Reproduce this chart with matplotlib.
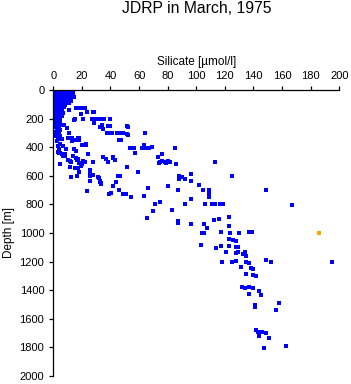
import matplotlib
matplotlib.use("Agg")
import matplotlib.pyplot as plt

plt.rcParams['font.family'] = ['Liberation Sans', 'DejaVu Sans']

title = "JDRP in March, 1975"
x_label = "Silicate [\u00b5mol/l]"
y_label = "Depth [m]"
x_ticks = [0, 20, 40, 60, 80, 100, 120, 140, 160, 180, 200]
y_ticks = [0, 200, 400, 600, 800, 1000, 1200, 1400, 1600, 1800, 2000]

# Near-surface cluster (silicate, depth)
cluster_si = [0.3, 1.5, 2.8, 4, 5.5, 7, 8.5, 10, 11.5, 13,
              0.5, 2, 3.5, 5, 6.5, 8, 9.5, 12,
              1, 2.5, 4, 6, 7.5, 9, 11, 13.5,
              0.5, 2, 3, 5, 7, 8.5, 10.5, 12.5,
              1, 2.5, 4.5, 6, 8, 10, 11.5, 14.5,
              0.5, 2, 3.5, 5.5, 7.5, 9, 12,
              1, 3, 4.5, 6.5, 8, 10.5, 12.5,
              0.5, 2, 4, 5.5, 7, 9.5, 11,
              1.5, 3, 5, 6.5, 8.5,
              0.5, 2.5, 4, 6, 7.5,
              1, 3, 4.5, 6, 11,
              0.5, 2, 3.5, 5, 7,
              1, 2.5, 4, 6,
              1, 3, 5,
              2, 4.5,
              1.5, 3.5,
              2.5, 5, 7.5,
              1.5, 4, 9.5,
              2.5, 5,
              1.5, 4,
              3,
              2, 4.5,
              3.5, 6,
              2.5,
              4.5,
              3, 6.5,
              4, 8.9,
              3.3, 5,
              6, 8.3,
              7,
              10.3,
              4.5]
cluster_depth = [0, 0, 0, 0, 0, 0, 0, 0, 0, 0,
                 10, 10, 10, 10, 10, 10, 10, 10,
                 20, 20, 20, 20, 20, 20, 20, 20,
                 30, 30, 30, 30, 30, 30, 30, 30,
                 45, 45, 45, 45, 45, 45, 45, 51,
                 60, 60, 60, 60, 60, 60, 62,
                 75, 75, 75, 75, 75, 75, 78,
                 90, 90, 90, 90, 90, 90, 92,
                 105, 105, 105, 105, 108,
                 120, 120, 120, 120, 122,
                 140, 140, 140, 142, 140,
                 160, 160, 160, 160, 158,
                 180, 180, 180, 182,
                 200, 200, 200,
                 215, 215,
                 230, 230,
                 245, 245, 248,
                 260, 260, 263,
                 280, 280,
                 295, 295,
                 310,
                 325, 325,
                 345, 345,
                 360,
                 375,
                 390, 390,
                 410, 410,
                 432, 439,
                 450, 450,
                 460,
                 490,
                 520]

# Points spreading away from the surface cluster
spread_si = [16, 19, 20.5, 22, 28, 28.5, 19.6, 23.8, 14.5,
             15, 20.5, 27, 30, 31, 32.7, 34, 35.5, 39.6,
             28.7, 33, 34, 34.5, 38.3, 39.6, 51.3, 52,
             37.3, 38.5, 40.8, 44.3, 46, 48.5, 51.3, 52, 64.4,
             46, 47, 9.5, 11, 10.5, 12.8, 13, 18, 18, 15, 17.2,
             20, 22.6, 23, 24, 21, 27.5, 13.5, 16.3, 11.6, 7, 8, 4, 14.5, 16,
             53.6, 55, 56.6, 62, 63.5, 65, 67, 69, 85,
             57, 76, 73, 74.6, 76, 78, 80, 81.6, 74, 79, 85.6,
             35, 37, 41.5, 38.5, 51.8, 42, 43,
             12.6, 11.9, 15, 17.3, 18, 19.6, 22, 27.8, 25.9, 25.9, 25.9, 27.8,
             18, 12.6, 16.8, 25.9, 31.3, 32, 33, 33.6, 23.8, 38.7, 40.5, 41.7,
             44, 45.3, 46.8, 45.7, 50.6, 38.3, 51.5,
             32.7, 33.5, 43.8, 45.5, 46.6, 41.5, 59.4, 66.4, 80.4, 88, 90, 92,
             54.5, 63.6, 48.5, 71.3, 74.6, 69.5, 83.2, 96.3, 87.4, 102, 105,
             109, 109, 109, 96.3, 92.3, 106, 111, 113, 116.6, 119, 65.7, 87.4,
             87.4, 96.5, 105.4, 107.5, 105.4, 117, 112.4, 116, 122.6, 122.6,
             88, 96.5, 125, 149, 167, 113, 85.3, 81.6,
             16, 17, 20]
spread_depth = [128, 128, 128, 128, 155, 156, 165, 156, 210,
                205, 205, 205, 205, 200, 203, 203, 203, 203,
                233, 257, 245, 273, 252, 252, 252, 257,
                303, 303, 303, 303, 303, 303, 310, 315, 303,
                350, 350, 263, 300, 338, 338, 360, 335, 350, 350, 333,
                385, 380, 387, 445, 495, 500, 460, 490, 497, 450, 460, 440, 415, 425,
                404, 404, 404, 404, 385, 404, 404, 400, 404,
                439, 450, 470, 500, 497, 500, 497, 500, 510, 510, 520,
                471, 483, 467, 506, 537, 475, 490,
                500, 541, 548, 548, 513, 532, 500, 500, 556, 577, 600, 595,
                571, 611, 602, 635, 607, 614, 642, 660, 707, 728, 723, 672,
                646, 600, 600, 700, 728, 501, 537,
                637, 650, 640, 600, 600, 672, 576, 688, 672, 600, 610, 620,
                751, 742, 730, 800, 786, 845, 840, 639, 700, 665, 700,
                700, 728, 747, 765, 800, 800, 800, 800, 800, 800, 898, 915,
                930, 940, 940, 968, 1003, 996, 910, 905, 887, 950,
                623, 590, 604, 702, 805, 502, 404, 502,
                473, 483, 520]

# Deep water points
deep_si = [104, 122.6, 125.5, 127.5, 103, 117, 123, 114, 128, 129, 121,
           128, 129, 133, 134, 134.5, 118, 125, 128, 135, 137, 149, 152, 195,
           131, 138, 139.5, 134.5, 140, 142, 132, 134, 137, 140, 144, 145, 137,
           141, 141, 158, 156, 142, 143, 146, 149, 144, 151, 163, 147,
           123.6, 130, 137, 139]
deep_depth = [1003, 1045, 1050, 1055, 1087, 1092, 1094, 1108, 1100, 1100, 1136,
              1140, 1135, 1148, 1132, 1160, 1202, 1202, 1195, 1202, 1209, 1192, 1202, 1202,
              1241, 1248, 1255, 1290, 1295, 1304, 1381, 1388, 1381, 1388, 1407, 1437, 1426,
              1503, 1517, 1489, 1540, 1675, 1690, 1690, 1696, 1717, 1734, 1787, 1801,
              1003, 1003, 996, 996]

# Flagged sample
flag_si = [186]
flag_depth = [1003]

fig = plt.figure(figsize=(3.51, 3.84), dpi=100)
ax = fig.add_axes([53.3 / 351, 1 - 376 / 384, (339.3 - 53.3) / 351, (376 - 90) / 384])

blue = '#0000ff'
ms = 8
kw = dict(s=ms, marker='s', linewidths=0, antialiased=False)
ax.scatter(cluster_si, cluster_depth, c=blue, **kw)
ax.scatter(spread_si, spread_depth, c=blue, **kw)
ax.scatter(deep_si, deep_depth, c=blue, **kw)
ax.scatter(flag_si, flag_depth, c='#ffa500', **kw)

ax.set_xlim(0, 200)
ax.set_ylim(2000, 0)
ax.set_xticks(x_ticks)
ax.set_yticks(y_ticks)
ax.xaxis.tick_top()
ax.xaxis.set_label_position('top')
for s in ['right', 'bottom']:
    ax.spines[s].set_visible(False)
for s in ['left', 'top']:
    ax.spines[s].set_linewidth(0.9)
ax.tick_params(direction='out', length=3, width=0.9, labelsize=8, pad=3.5)
ax.set_xlabel(x_label, fontsize=8.5, labelpad=4.5)
ax.set_ylabel(y_label, fontsize=8.5, labelpad=3.5)
fig.text((53.3 + 339.3) / 2 / 351, 1 - 8.5 / 384, title, ha='center', va='center', fontsize=11.3)

fig.savefig('out.png', dpi=100)
